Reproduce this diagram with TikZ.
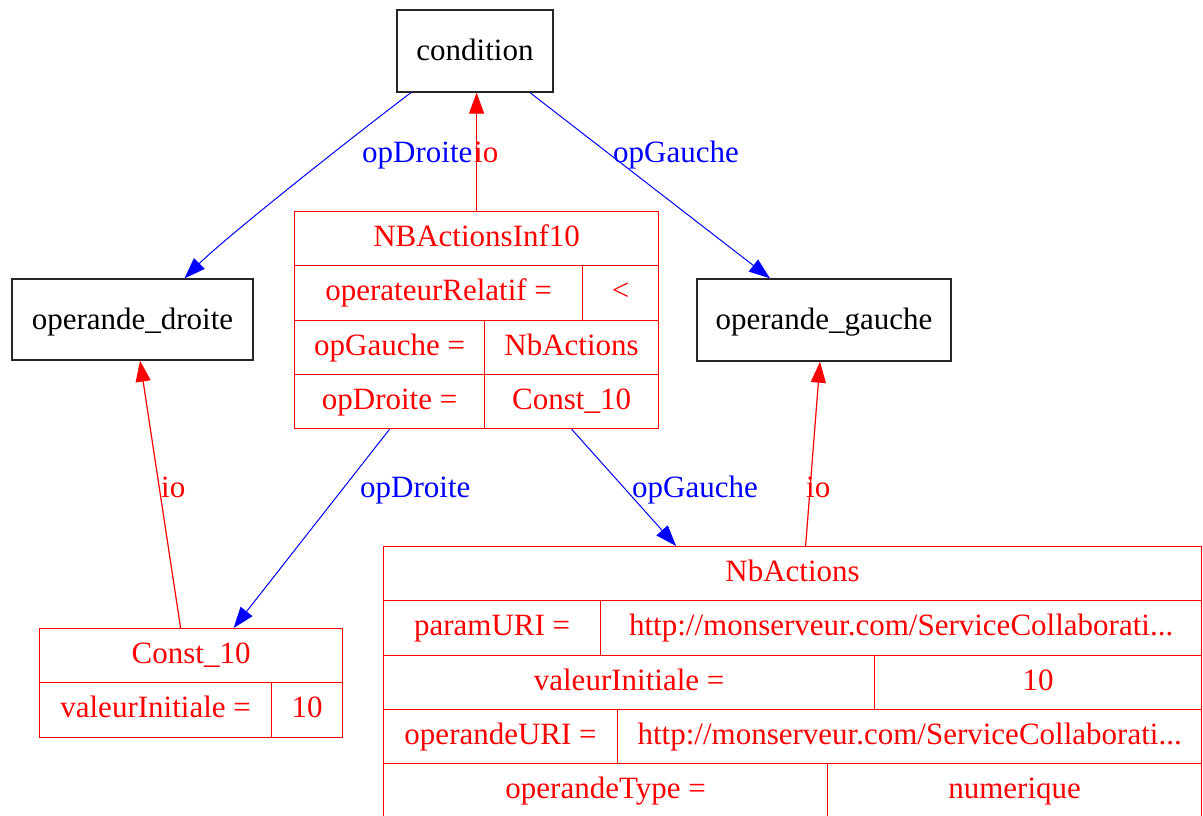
\documentclass[tikz,border=0pt]{standalone}
\usepackage{fontspec}
\setmainfont{Liberation Serif}
\usetikzlibrary{arrows.meta}

\begin{document}
\begin{tikzpicture}[x=1pt, y=-1pt,
    font=\fontsize{31}{37}\selectfont,
    box/.style={draw=black!85, line width=1.3pt, minimum height=82pt, inner sep=0pt, text height=23pt, text depth=4pt},
    cell/.style={draw=red, text=red, line width=1.2pt, anchor=north west, minimum height=54.25pt, inner sep=0pt, text height=21pt, text depth=5pt},
    lbl/.style={anchor=base west, inner sep=0pt},
    ref/.style={draw=blue, line width=1pt, -{Triangle[length=21pt, width=15pt]}},
    io/.style={draw=red, line width=1.2pt, -{Triangle[length=21pt, width=15pt]}}]

	\fill[white] (0,0) rectangle (1203,816);
	\useasboundingbox (0,0) rectangle (1203,816);

	%Nodes
	\node[box, minimum width=156pt] (condition) at (475,51) {condition};
	\node[box, minimum width=241pt, minimum height=81pt] (opdroite) at (132.5,319.5) {operande\_droite};
	\node[box, minimum width=254pt] (opgauche) at (824,320) {operande\_gauche};

	%NBActionsInf10
	\node[cell, minimum width=364pt] (inf10) at (294,211) {NBActionsInf10};
	\node[cell, minimum width=288pt] (inf10rel) at (294,265.25) {operateurRelatif =};
	\node[cell, minimum width=76pt] (inf10relv) at (582,265.25) {<};
	\node[cell, minimum width=190pt] (inf10g) at (294,319.5) {opGauche =};
	\node[cell, minimum width=174pt] (inf10gv) at (484,319.5) {NbActions};
	\node[cell, minimum width=190pt] (inf10d) at (294,373.75) {opDroite =};
	\node[cell, minimum width=174pt] (inf10dv) at (484,373.75) {Const\_10};

	%Const_10
	\node[cell, minimum width=303pt] (const) at (39,628) {Const\_10};
	\node[cell, minimum width=232pt] (constval) at (39,682.25) {valeurInitiale =};
	\node[cell, minimum width=71pt] (constvalv) at (271,682.25) {10};

	%NbActions
	\node[cell, minimum width=818pt] (nbact) at (383,546) {NbActions};
	\node[cell, minimum width=217pt] (nbparam) at (383,600.25) {paramURI =};
	\node[cell, minimum width=601pt] (nbparamv) at (600,600.25) {http://monserveur.com/ServiceCollaborati...};
	\node[cell, minimum width=491pt] (nbval) at (383,654.5) {valeurInitiale =};
	\node[cell, minimum width=327pt] (nbvalv) at (874,654.5) {10};
	\node[cell, minimum width=234pt] (nbop) at (383,708.75) {operandeURI =};
	\node[cell, minimum width=584pt] (nbopv) at (617,708.75) {http://monserveur.com/ServiceCollaborati...};
	\node[cell, minimum width=444pt] (nbtype) at (383,763) {operandeType =};
	\node[cell, minimum width=374pt] (nbtypev) at (827,763) {numerique};

	%Lines
	\draw[ref] ([xshift=-64pt]condition.south) .. controls +(-61,46) and +(40,-40) .. ([xshift=52pt]opdroite.north);
	\draw[ref] ([xshift=55pt]condition.south) -- ([xshift=-54pt]opgauche.north);
	\draw[io] (inf10.north) -- (inf10.north |- condition.south);
	\draw[ref] (inf10d.south) -- ([xshift=42.5pt]const.north);
	\draw[ref] (inf10dv.south) -- ([xshift=-116.5pt]nbact.north);
	\draw[io] ([xshift=-10.5pt]const.north) -- ([xshift=7.5pt]opdroite.south);
	\draw[io] ([xshift=13pt]nbact.north) -- ([xshift=-4pt]opgauche.south);

	%Labels
	\node[lbl, text=blue] (l1) at (362,162) {opDroite};
	\node[lbl, text=red] (l2) at (474,162) {io};
	\node[lbl, text=blue] (l3) at (613,162) {opGauche};
	\node[lbl, text=blue] (l4) at (360,497) {opDroite};
	\node[lbl, text=blue] (l5) at (632,497) {opGauche};
	\node[lbl, text=red] (l6) at (161,497) {io};
	\node[lbl, text=red] (l7) at (806,497) {io};

\end{tikzpicture}
\end{document}
